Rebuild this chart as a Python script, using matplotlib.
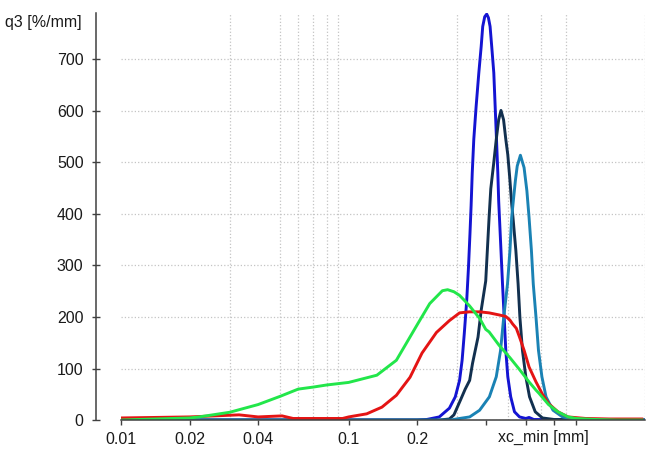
import matplotlib
matplotlib.use("Agg")
import matplotlib.pyplot as plt
from matplotlib.ticker import FixedLocator, NullFormatter

plt.rcParams['font.family'] = ['Liberation Sans', 'DejaVu Sans']

# curves: x in mm, q3 in %/mm
blue_x = [0.01, 0.2, 0.22, 0.25, 0.277, 0.294, 0.307, 0.315, 0.322, 0.33, 0.336, 0.341,
          0.345, 0.349, 0.3545, 0.363, 0.373, 0.382, 0.388, 0.396, 0.404, 0.411, 0.418,
          0.425, 0.434, 0.44, 0.446, 0.452, 0.456, 0.4667, 0.474, 0.482, 0.49, 0.50,
          0.515, 0.535, 0.563, 0.60, 0.62, 0.65, 2.0]
blue_y = [0, 0, 1, 6, 23, 45, 77, 116, 168, 232, 297, 361,
          416, 480, 545, 609, 674, 725, 764, 783, 788, 781, 764,
          725, 674, 609, 545, 480, 425, 329, 264, 200, 135, 84,
          45, 16, 6, 3, 5, 1, 0]

navy_x = [0.01, 0.25, 0.277, 0.29, 0.31, 0.325, 0.34, 0.35, 0.37, 0.382, 0.40, 0.414,
          0.421, 0.434, 0.445, 0.456, 0.4667, 0.479, 0.49, 0.50, 0.51, 0.52, 0.527,
          0.5425, 0.555, 0.565, 0.58, 0.60, 0.623, 0.66, 0.71, 0.8, 2.0]
navy_y = [0, 0, 2, 10, 39, 60, 77, 110, 161, 213, 270, 395,
          449, 500, 545, 583, 601, 583, 545, 515, 470, 420, 393,
          329, 264, 200, 135, 84, 45, 16, 4, 1, 0]

teal_x = [0.01, 0.28, 0.307, 0.34, 0.376, 0.415, 0.445, 0.4647, 0.48, 0.4985, 0.511,
          0.52, 0.53, 0.54, 0.55, 0.568, 0.5895, 0.6065, 0.62, 0.635, 0.647, 0.665,
          0.682, 0.706, 0.736, 0.79, 0.87, 1.0, 2.0]
teal_y = [0, 0, 3, 6, 19, 45, 84, 135, 200, 264, 329,
          393, 430, 465, 493, 514, 490, 445, 393, 329, 264, 200,
          135, 84, 45, 19, 6, 1, 0]

red_x = [0.01, 0.02, 0.033, 0.04, 0.051, 0.057, 0.094, 0.1, 0.12, 0.14, 0.162, 0.186,
         0.21, 0.243, 0.277, 0.307, 0.339, 0.3765, 0.414, 0.458, 0.49, 0.511, 0.524,
         0.545, 0.563, 0.59, 0.62, 0.665, 0.71, 0.755, 0.83, 0.92, 1.1, 1.4, 1.94]
red_y = [4, 6, 10, 6, 8, 3, 3, 6, 12, 25, 48, 83,
         130, 170, 193, 208, 210, 210, 208, 204, 201, 194, 187,
         178, 161, 135, 103, 74, 50, 32, 16, 6, 3, 2, 2]

green_x = [0.01, 0.02, 0.022, 0.03, 0.04, 0.05, 0.06, 0.07, 0.08, 0.1, 0.133, 0.162,
           0.2, 0.227, 0.258, 0.272, 0.29, 0.307, 0.339, 0.3765, 0.40, 0.414, 0.458,
           0.511, 0.563, 0.62, 0.665, 0.685, 0.755, 0.83, 0.92, 1.0, 1.22, 1.5, 1.94]
green_y = [0, 4, 6, 15, 30, 46, 60, 64, 68, 73, 87, 116,
           185, 226, 251, 253, 249, 242, 222, 197, 176, 171, 145,
           121, 98, 74, 58, 52, 30, 16, 6, 3, 1, 0, 0]

x_labeled = [0.01, 0.02, 0.04, 0.1, 0.2]
x_unlabeled = [0.4, 0.6, 0.8, 1.0]
y_ticks = [0, 100, 200, 300, 400, 500, 600, 700]

fig = plt.figure(figsize=(6.56, 4.51), dpi=100)
ax = fig.add_axes([0.1845, 0.0687, 0.7985, 0.9023])

ax.plot(blue_x, blue_y, color='#1414d2', lw=2.1)
ax.plot(navy_x, navy_y, color='#12304f', lw=2.1)
ax.plot(teal_x, teal_y, color='#1a82b4', lw=2.1)
ax.plot(red_x, red_y, color='#e41414', lw=2.1)
ax.plot(green_x, green_y, color='#22e64a', lw=2.1)

ax.set_xscale('log')
ax.set_xlim(0.01, 2.0)
ax.set_ylim(0, 790)

# grid at every 1..9 x decade
grid_x = [m * d for d in (0.01, 0.1, 1.0) for m in range(1, 10) if m * d <= 2.0001]
ax.xaxis.set_minor_locator(FixedLocator(grid_x))
ax.xaxis.set_minor_formatter(NullFormatter())
ax.xaxis.grid(True, which='minor', color='#c4c4c4', ls=':', lw=0.9)
ax.yaxis.grid(True, color='#c4c4c4', ls=':', lw=0.9)
ax.tick_params(axis='x', which='minor', length=0)

ticks = x_labeled + x_unlabeled
ax.set_xticks(ticks)
ax.set_xticklabels([str(t) for t in x_labeled] + [''] * len(x_unlabeled))
ax.set_yticks(y_ticks)

ax.tick_params(axis='x', which='major', direction='out', length=3.5, width=1,
               color='#404040', labelsize=11.5, pad=5, labelcolor='#1a1a1a')
ax.tick_params(axis='y', direction='inout', length=6, width=1,
               color='#404040', labelsize=11.5, pad=6, labelcolor='#1a1a1a')

for s in ('top', 'right'):
    ax.spines[s].set_visible(False)
ax.spines['left'].set_position(('outward', 18))
ax.spines['left'].set_color('#404040')
ax.spines['bottom'].set_color('#404040')
ax.spines['left'].set_linewidth(1.1)
ax.spines['bottom'].set_linewidth(1.1)
ax.set_axisbelow(True)

fig.text(0.125, 0.951, 'q3 [%/mm]', ha='right', va='center', fontsize=11.5, color='#1a1a1a')
fig.text(0.828, 0.029, 'xc_min [mm]', ha='center', va='center', fontsize=11.5, color='#1a1a1a')

fig.savefig('out.png', dpi=100)
